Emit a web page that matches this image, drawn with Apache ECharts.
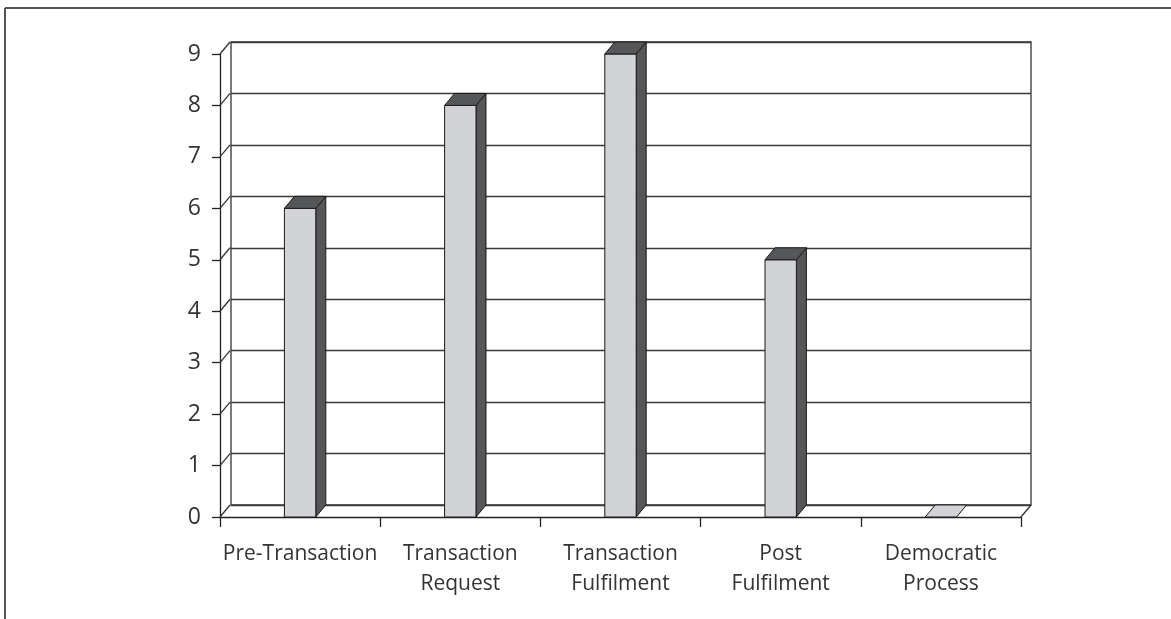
<!DOCTYPE html>
<html>
<head>
<meta charset="utf-8">
<style>
  html, body { margin: 0; padding: 0; background: #fff; }
  #chart { width: 1171px; height: 619px; }
</style>
<script src="https://cdn.jsdelivr.net/npm/echarts@6/dist/echarts.min.js"></script>
</head>
<body>
<div id="chart"></div>
<script>
// Stages of the e-government transaction model and the count for each stage
const categories = ['Pre-Transaction', 'Transaction\nRequest', 'Transaction\nFulfilment', 'Post\nFulfilment', 'Democratic\nProcess'];
const counts = [6, 8, 9, 5, 0];
const yTicks = [0, 1, 2, 3, 4, 5, 6, 7, 8, 9];

// pseudo-3D depth of the wall and the bars, in pixels
const DX = 10, DY = 12;
const FONT = '"Open Sans", "Noto Sans", sans-serif';
const FRONT = '#d2d3d6', SHADE = '#555658', EDGE = '#1a1a1a';

const chart = echarts.init(document.getElementById('chart'), null, { renderer: 'canvas' });

// floor/wall connectors at every gridline level
function renderConnector(params, api) {
  const cs = params.coordSys;
  const y = api.coord([0, api.value(1)])[1];
  const children = [{
    type: 'line',
    shape: { x1: cs.x, y1: y, x2: cs.x + DX, y2: y - DY },
    style: { stroke: '#333', lineWidth: 1.3 }
  }];
  if (api.value(1) === 0) {
    children.push({
      type: 'line',
      shape: { x1: cs.x + cs.width, y1: y, x2: cs.x + cs.width + DX, y2: y - DY },
      style: { stroke: '#333', lineWidth: 1.3 }
    });
  }
  return { type: 'group', children };
}

// a bar as a box: front face, right side and top
function renderBox(params, api) {
  const idx = api.value(0), v = api.value(1);
  const top = api.coord([idx, v]);
  const base = api.coord([idx, 0]);
  const bw = api.size([1, 0])[0] * 0.196;
  const x0 = top[0] - bw / 2, x1 = x0 + bw;
  const yt = top[1], yb = base[1];
  const st = { stroke: EDGE, lineWidth: 1, lineJoin: 'miter' };
  const children = [];
  if (v > 0) {
    children.push({
      type: 'polygon',
      shape: { points: [[x1, yt], [x1 + DX, yt - DY], [x1 + DX, yb - DY], [x1, yb]] },
      style: Object.assign({ fill: SHADE }, st)
    });
    children.push({
      type: 'rect',
      shape: { x: x0, y: yt, width: bw, height: yb - yt },
      style: Object.assign({ fill: FRONT }, st)
    });
  }
  children.push({
    type: 'polygon',
    shape: { points: [[x0, yt], [x0 + DX, yt - DY], [x1 + DX, yt - DY], [x1, yt]] },
    style: Object.assign({ fill: v > 0 ? SHADE : FRONT }, st)
  });
  return { type: 'group', children };
}

const option = {
  animation: false,
  backgroundColor: '#fff',
  graphic: [
    { type: 'line', shape: { x1: 5, y1: 8, x2: 1171, y2: 8 }, style: { stroke: '#555', lineWidth: 2 } },
    { type: 'line', shape: { x1: 5, y1: 8, x2: 5, y2: 619 }, style: { stroke: '#555', lineWidth: 2 } }
  ],
  grid: [
    // front plane: axes, ticks, labels
    { left: 220, top: 54, width: 801, height: 463 },
    // back wall with its gridlines
    { left: 231, top: 42, width: 800, height: 463, show: true, borderColor: '#333', borderWidth: 1.3, backgroundColor: 'transparent' }
  ],
  xAxis: [
    {
      type: 'category', gridIndex: 0, data: categories, boundaryGap: true,
      axisLine: { show: true, lineStyle: { color: '#222', width: 1.3 } },
      axisTick: { show: true, length: 10, alignWithLabel: false, lineStyle: { color: '#222', width: 1.3 } },
      axisLabel: { interval: 0, margin: 22, color: '#333', fontFamily: FONT, fontSize: 21, lineHeight: 30, align: 'center' },
      splitLine: { show: false }
    },
    {
      type: 'category', gridIndex: 1, data: categories, show: false
    }
  ],
  yAxis: [
    {
      type: 'value', gridIndex: 0, min: 0, max: 9, interval: 1,
      axisLine: { show: true, lineStyle: { color: '#222', width: 1.3 } },
      axisTick: { show: true, length: 8, lineStyle: { color: '#222', width: 1.3 } },
      axisLabel: { margin: 19, color: '#333', fontFamily: FONT, fontSize: 23 },
      splitLine: { show: false }
    },
    {
      type: 'value', gridIndex: 1, min: 0, max: 9, interval: 1,
      axisLine: { show: false }, axisTick: { show: false }, axisLabel: { show: false },
      splitLine: { show: true, lineStyle: { color: '#3a3a3a', width: 1.3 } }
    }
  ],
  series: [
    {
      type: 'custom', xAxisIndex: 0, yAxisIndex: 0, z: 3,
      renderItem: renderConnector,
      encode: { x: 0, y: 1 },
      data: yTicks.map(t => [0, t]),
      silent: true
    },
    {
      type: 'custom', xAxisIndex: 0, yAxisIndex: 0, z: 5,
      renderItem: renderBox,
      encode: { x: 0, y: 1 },
      data: counts.map((c, i) => [i, c]),
      silent: true
    }
  ]
};

chart.setOption(option);
</script>
</body>
</html>
